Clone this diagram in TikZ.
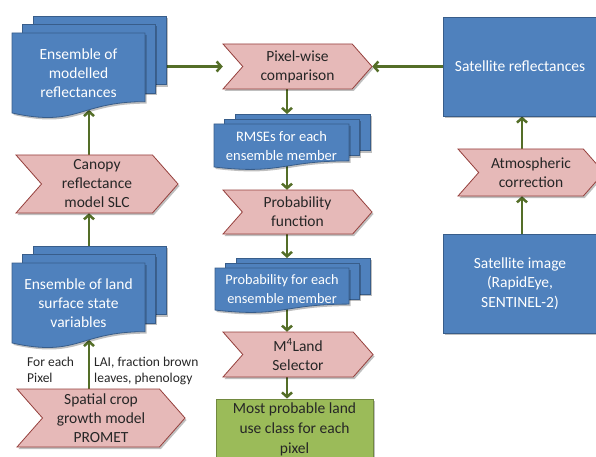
\documentclass[tikz,border=0pt]{standalone}
\usepackage{fontspec}
\setmainfont{Carlito}
\usetikzlibrary{arrows.meta,shadows}
\usetikzlibrary{positioning}

\definecolor{docblue}{RGB}{79,129,189}
\definecolor{docline}{RGB}{56,93,138}
\definecolor{chevpink}{RGB}{230,185,184}
\definecolor{chevline}{RGB}{150,64,61}
\definecolor{resgreen}{RGB}{155,187,89}
\definecolor{resline}{RGB}{113,137,63}
\definecolor{flowgreen}{RGB}{84,110,40}
\definecolor{inktext}{RGB}{38,38,38}

\pgfdeclarelayer{background}
\pgfsetlayers{background,main}

\tikzstyle{shade} = [drop shadow={shadow xshift=1.5pt, shadow yshift=-2pt, opacity=0.25, fill=black}]
\tikzstyle{sheet} = [fill=docblue, draw=docline, line width=0.8pt]
\tikzstyle{chev} = [fill=chevpink, draw=chevline, line width=0.8pt]
\tikzstyle{box} = [rectangle, fill=docblue, draw=docline, line width=0.8pt, shade, text=white, align=center, font=\fontsize{15.5}{19.5}\selectfont]
\tikzstyle{result} = [rectangle, fill=resgreen, draw=resline, line width=0.8pt, shade, text=inktext, align=center, font=\fontsize{15.5}{20}\selectfont]
\tikzstyle{doctext} = [text=white, align=center, inner sep=0pt]
\tikzstyle{chevtext} = [text=inktext, align=center, inner sep=0pt, font=\fontsize{15.5}{19}\selectfont]
\tikzstyle{note} = [text=inktext, align=left, inner sep=0pt, font=\fontsize{13.5}{15.5}\selectfont]
\tikzstyle{flow} = [draw=flowgreen, line width=2.5pt, -{Straight Barb[length=4.5pt,width=10pt]}]

% chevron: name, left, top, right, bottom, text
\newcommand{\chevshape}[6]{%
  \pgfmathsetmacro{\chdep}{0.44*(#5-#3)}
  \pgfmathsetmacro{\chmid}{(#3+#5)/2}
  \pgfmathsetmacro{\chwd}{#4-#2}
  \pgfmathsetmacro{\chht}{#5-#3}
  \path[chev, shade] (#2,#3) -- ({#4-\chdep},#3) -- (#4,\chmid) -- ({#4-\chdep},#5)
    -- (#2,#5) -- ({#2+\chdep},\chmid) -- cycle;
  \node[chevtext, minimum width=\chwd pt, minimum height=\chht pt] (#1) at ({(#2+#4)/2},\chmid) {#6};
}

% stack of documents: name, x, y, width, height, dx, dy, font size, text
\newcommand{\docstack}[9]{%
  \path[sheet, shade] ({#2+2*#6},{#3-2*#7}) rectangle ({#2+#4+2*#6},{#3-2*#7+0.802*#5});
  \path[sheet, shade] ({#2+#6},{#3-#7}) rectangle ({#2+#4+#6},{#3-#7+0.802*#5});
  \path[sheet, shade] (#2,#3) -- ({#2+#4},#3) -- ({#2+#4},{#3+0.802*#5})
    .. controls ({#2+#4/2},{#3+0.802*#5}) and ({#2+#4/2},{#3+1.107*#5})
    .. coordinate[pos=0.4] (#1-wave) (#2,{#3+0.934*#5}) -- cycle;
  \coordinate (#1-top) at ({#2+#4/2+2*#6},{#3-2*#7});
  \node[doctext, font=\fontsize{#8}{19}\selectfont] (#1) at ({#2+#4/2},{#3+0.47*#5}) {#9};
}

\begin{document}
\begin{tikzpicture}[x=1pt, y=-1pt]
\useasboundingbox (0,0) rectangle (596,457);

\coordinate (leftcol) at (89,0);
\coordinate (midcol) at (287,0);
\coordinate (rightcol) at (522,0);

% left column
\docstack{moddoc}{12}{33}{133}{85.6}{10.5}{8.5}{15.5}{Ensemble of\\modelled\\reflectances}
\chevshape{canopy}{16}{155}{178}{213}{Canopy\\reflectance\\model SLC}
\docstack{landdoc}{12}{263}{133}{85.6}{10.5}{8.5}{15.5}{Ensemble of land\\surface state\\variables}
\chevshape{promet}{17}{389}{185}{447}{Spatial crop\\growth model\\PROMET}
\node[note, anchor=north west] (pixlab) at (27,357) {For each\\Pixel};
\node[note, anchor=north west] (lailab) at (94,357) {LAI, fraction brown\\leaves, phenology};

% middle column
\chevshape{pixel}{223}{44}{372}{89}{Pixel-wise\\comparison}
\docstack{rmse}{214}{124}{135}{46}{10.5}{5}{14.5}{RMSEs for each\\ensemble member}
\chevshape{probfn}{223}{190}{372}{234}{Probability\\function}
\docstack{probdoc}{215}{268}{134}{45}{10.5}{5}{14.3}{Probability for each\\ensemble member}
\chevshape{selector}{223}{332}{373}{377}{M\textsuperscript{4}Land\\Selector}
\node[result, minimum width=157pt, minimum height=60pt] (landuse) at (294.5,429) {Most probable land\\use class for each\\pixel};

% right column
\node[box, minimum width=154pt, minimum height=99pt] (satref) at (520,66.5) {Satellite reflectances};
\chevshape{atmos}{458}{149}{604}{196}{Atmospheric\\correction}
\node[box, minimum width=154pt, minimum height=99pt] (satimg) at (520,283.5) {Satellite image\\(RapidEye,\\SENTINEL-2)};

\begin{pgfonlayer}{background}
\draw[flow] (moddoc.center |- pixel.west) -- (pixel.west);
\draw[flow] (satref.west) -- (pixel.east);
\draw[flow] (canopy -| leftcol) -- (moddoc-wave -| leftcol);
\draw[flow] (landdoc -| leftcol) -- (canopy.south -| leftcol);
\draw[flow] (promet -| leftcol) -- (landdoc-wave -| leftcol);
\draw[flow] (pixel -| midcol) -- (rmse-top -| midcol);
\draw[flow] (rmse -| midcol) -- (probfn.north -| midcol);
\draw[flow] (probfn -| midcol) -- (probdoc-top -| midcol);
\draw[flow] (probdoc -| midcol) -- (selector.north -| midcol);
\draw[flow] (selector -| midcol) -- (landuse.north -| midcol);
\draw[flow] (atmos -| rightcol) -- (satref.south -| rightcol);
\draw[flow] (satimg -| rightcol) -- (atmos.south -| rightcol);
\end{pgfonlayer}
\end{tikzpicture}
\end{document}
